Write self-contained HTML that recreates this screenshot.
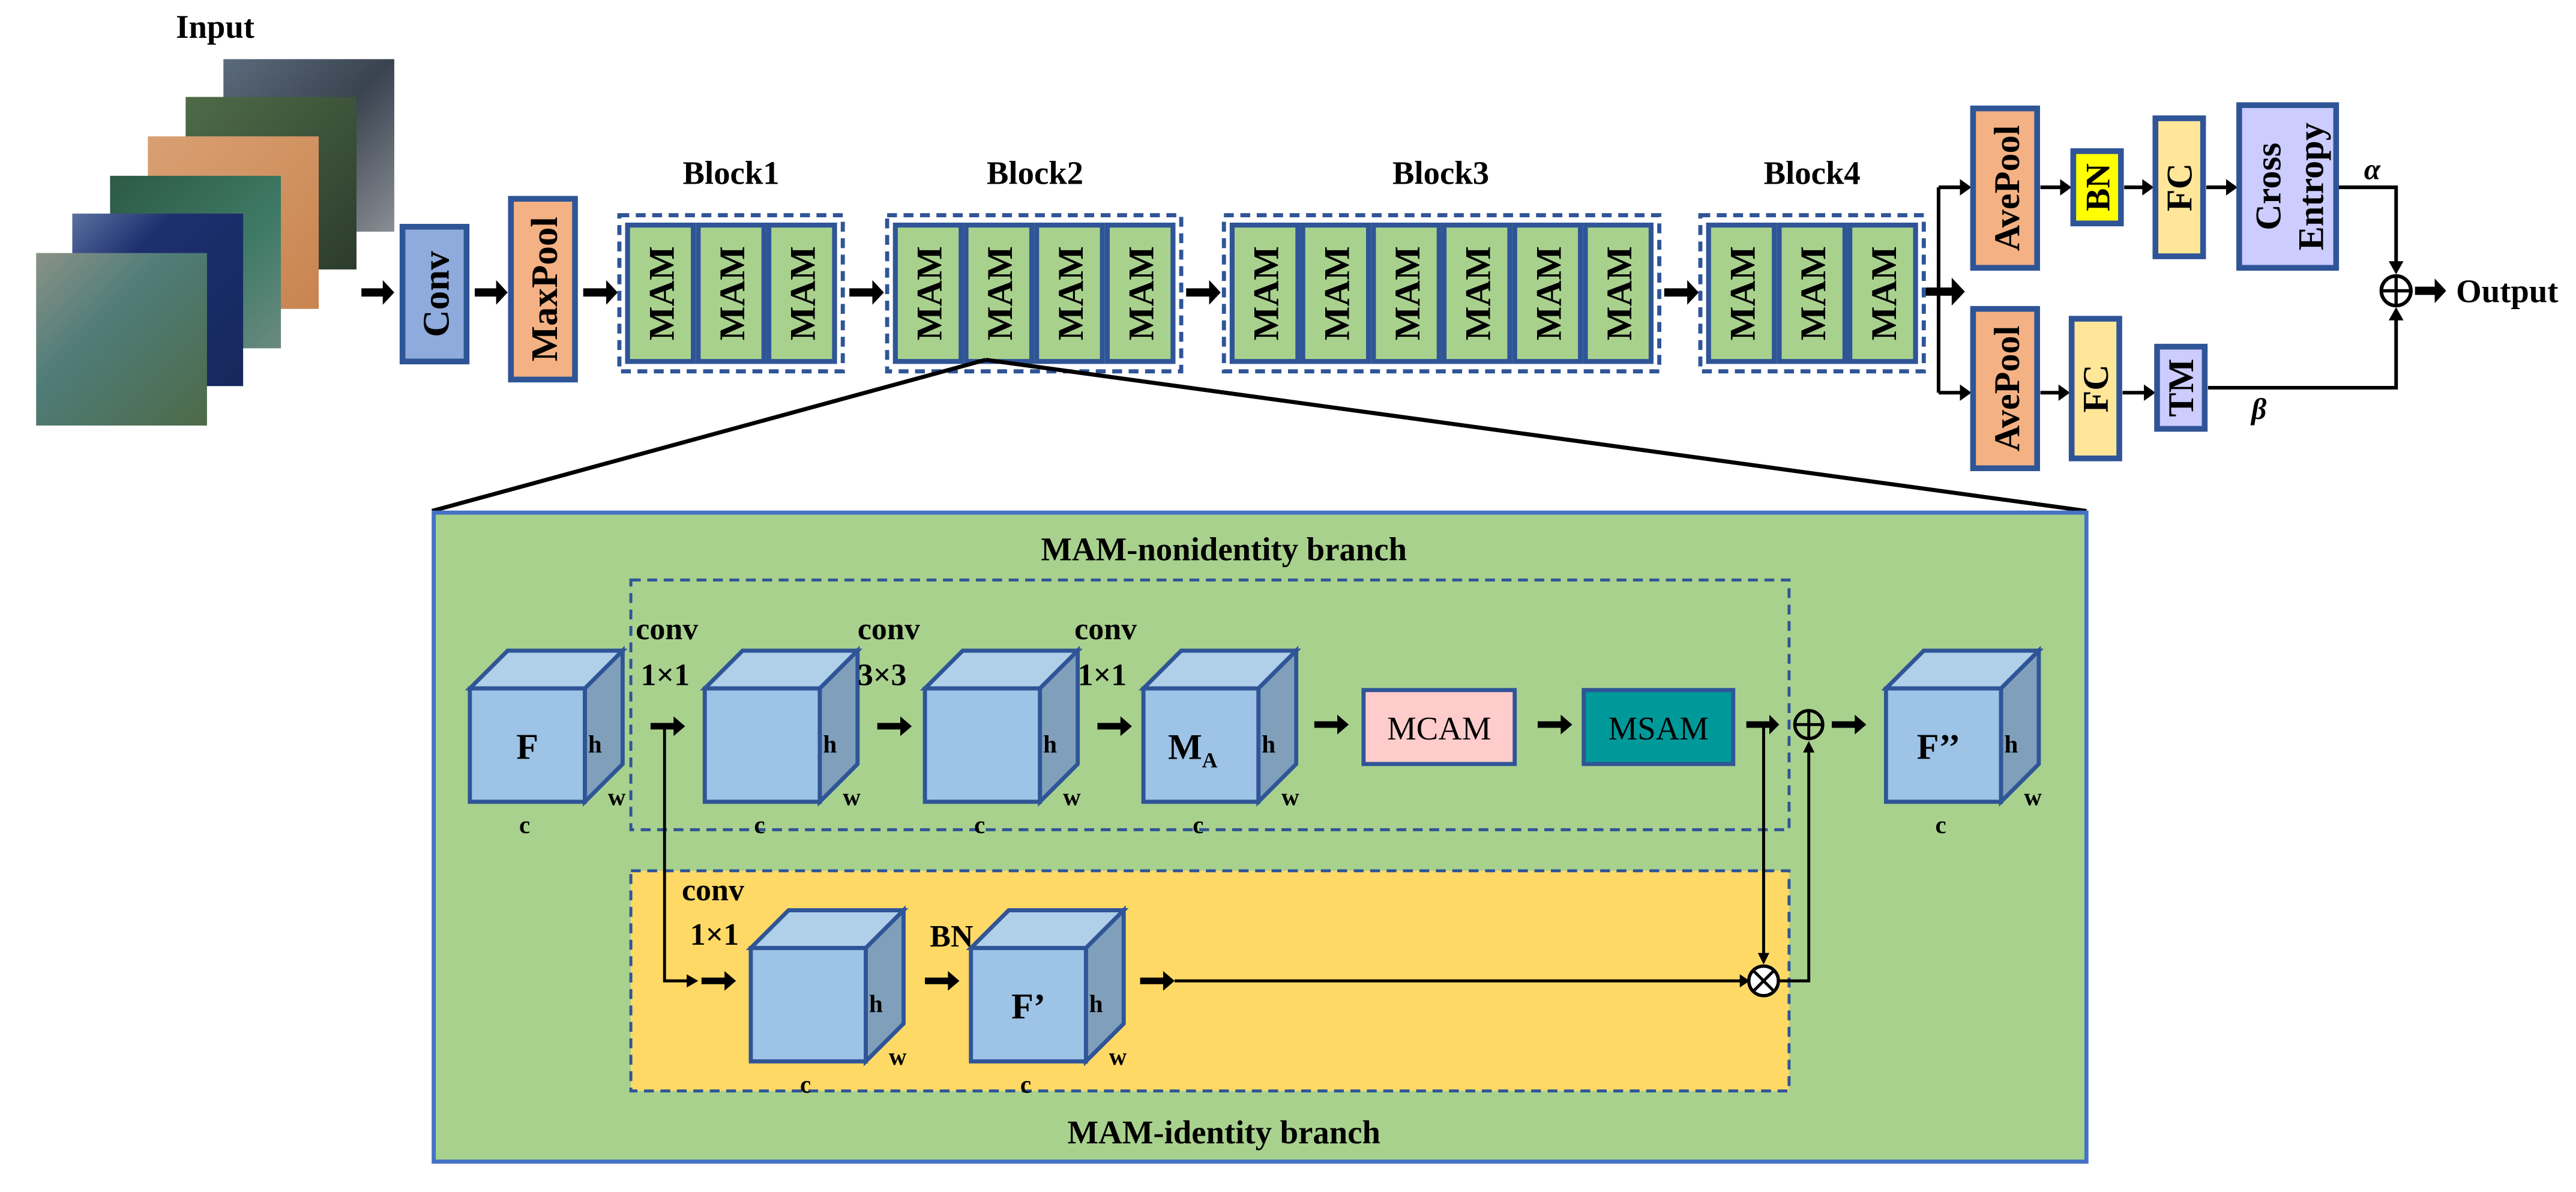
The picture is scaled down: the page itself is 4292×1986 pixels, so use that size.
<!DOCTYPE html>
<html><head><meta charset="utf-8"><style>html,body{margin:0;padding:0;background:#fff}svg{display:block}</style></head>
<body>
<svg width="4292" height="1986" viewBox="0 0 1568 725.5" preserveAspectRatio="none" xmlns="http://www.w3.org/2000/svg" font-family="'Liberation Serif', serif" font-weight="bold">
<defs>
<linearGradient id="g0" x1="0" y1="0" x2="1" y2="1"><stop offset="0" stop-color="#5b6b7c"/><stop offset="0.5" stop-color="#3a4350"/><stop offset="1" stop-color="#8a8e94"/></linearGradient>
<linearGradient id="g1" x1="0" y1="0" x2="1" y2="1"><stop offset="0" stop-color="#4e6b48"/><stop offset="1" stop-color="#2c3c2c"/></linearGradient>
<linearGradient id="g2" x1="0" y1="0" x2="1" y2="1"><stop offset="0" stop-color="#d9a072"/><stop offset="1" stop-color="#c98450"/></linearGradient>
<linearGradient id="g3" x1="0" y1="0" x2="1" y2="1"><stop offset="0" stop-color="#2c5a45"/><stop offset="0.6" stop-color="#3f7a66"/><stop offset="1" stop-color="#6a8a80"/></linearGradient>
<linearGradient id="g4" x1="0" y1="0" x2="1" y2="1"><stop offset="0" stop-color="#5a70a0"/><stop offset="0.3" stop-color="#1d2f6e"/><stop offset="1" stop-color="#16285c"/></linearGradient>
<linearGradient id="g5" x1="0" y1="0" x2="1" y2="1"><stop offset="0" stop-color="#8a9288"/><stop offset="0.4" stop-color="#4f7c78"/><stop offset="1" stop-color="#4d6a48"/></linearGradient>
</defs>

<!-- Input -->
<text x="131" y="23" font-size="20" text-anchor="middle">Input</text>
<rect x="136" y="36" width="104" height="105" fill="url(#g0)"/>
<rect x="113" y="59" width="104" height="105" fill="url(#g1)"/>
<rect x="90" y="83" width="104" height="105" fill="url(#g2)"/>
<rect x="67" y="107" width="104" height="105" fill="url(#g3)"/>
<rect x="44" y="130" width="104" height="105" fill="url(#g4)"/>
<rect x="22" y="154" width="104" height="105" fill="url(#g5)"/>

<g fill="#000">
<!-- top-row thick arrows -->
<path d="M220,175.5h13v-5l7,7.5l-7,7.5v-5h-13z"/>
<path d="M289,175.5h13v-5l7,7.5l-7,7.5v-5h-13z"/>
<path d="M355,175.5h14v-5l7,7.5l-7,7.5v-5h-14z"/>
<path d="M517,175.5h14v-5l7,7.5l-7,7.5v-5h-14z"/>
<path d="M722,175.5h14v-5l7,7.5l-7,7.5v-5h-14z"/>
<path d="M1013,175.5h14v-5l7,7.5l-7,7.5v-5h-14z"/>
<path d="M1172,175h16v-6l8,8.5l-8,8.5v-6h-16z"/>
</g>

<!-- Conv / MaxPool -->
<rect x="245" y="138" width="39" height="82" fill="#8faadc" stroke="#2f5597" stroke-width="3.5"/>
<text transform="translate(273,179) rotate(-90)" font-size="23" text-anchor="middle">Conv</text>
<rect x="311" y="121" width="39" height="110" fill="#f4b183" stroke="#2f5597" stroke-width="3.5"/>
<text transform="translate(339,176) rotate(-90)" font-size="23" text-anchor="middle">MaxPool</text>

<!-- Blocks -->
<g font-size="20" text-anchor="middle">
<text x="445" y="112">Block1</text><text x="630" y="112">Block2</text><text x="877" y="112">Block3</text><text x="1103" y="112">Block4</text>
</g>
<g fill="none" stroke="#2f5597" stroke-width="2.5" stroke-dasharray="6,4">
<rect x="377" y="131" width="136" height="95"/>
<rect x="540" y="131" width="179" height="95"/>
<rect x="745" y="131" width="265" height="95"/>
<rect x="1035" y="131" width="136" height="95"/>
</g>
<g id="mams" font-size="22" text-anchor="middle">
<g fill="#a9d18e" stroke="#2f5597" stroke-width="3">
<rect x="382" y="137" width="40" height="83"/><rect x="425" y="137" width="40" height="83"/><rect x="468" y="137" width="40" height="83"/>
<rect x="545" y="137" width="40" height="83"/><rect x="588" y="137" width="40" height="83"/><rect x="631" y="137" width="40" height="83"/><rect x="674" y="137" width="40" height="83"/>
<rect x="750" y="137" width="40" height="83"/><rect x="793" y="137" width="40" height="83"/><rect x="836" y="137" width="40" height="83"/><rect x="879" y="137" width="40" height="83"/><rect x="922" y="137" width="40" height="83"/><rect x="965" y="137" width="40" height="83"/>
<rect x="1040" y="137" width="40" height="83"/><rect x="1083" y="137" width="40" height="83"/><rect x="1126" y="137" width="40" height="83"/>
</g>
<g>
<text transform="translate(410,178.5) rotate(-90)">MAM</text><text transform="translate(453,178.5) rotate(-90)">MAM</text><text transform="translate(496,178.5) rotate(-90)">MAM</text>
<text transform="translate(573,178.5) rotate(-90)">MAM</text><text transform="translate(616,178.5) rotate(-90)">MAM</text><text transform="translate(659,178.5) rotate(-90)">MAM</text><text transform="translate(702,178.5) rotate(-90)">MAM</text>
<text transform="translate(778,178.5) rotate(-90)">MAM</text><text transform="translate(821,178.5) rotate(-90)">MAM</text><text transform="translate(864,178.5) rotate(-90)">MAM</text><text transform="translate(907,178.5) rotate(-90)">MAM</text><text transform="translate(950,178.5) rotate(-90)">MAM</text><text transform="translate(993,178.5) rotate(-90)">MAM</text>
<text transform="translate(1068,178.5) rotate(-90)">MAM</text><text transform="translate(1111,178.5) rotate(-90)">MAM</text><text transform="translate(1154,178.5) rotate(-90)">MAM</text>
</g>
</g>

<!-- right head -->
<g stroke="#000" stroke-width="2.2" fill="none">
<path d="M1180,114V239"/>
<path d="M1180,114H1194"/><path d="M1180,239H1194"/>
<path d="M1242,114H1255"/><path d="M1293,114H1305"/><path d="M1343,114H1356"/>
<path d="M1242,239H1254"/><path d="M1292,239H1306"/>
<path d="M1423,114H1458.5V160"/>
<path d="M1344,236H1458.5V194"/>
</g>
<g fill="#000">
<path d="M1193,109l7,5l-7,5z"/><path d="M1193,234l7,5l-7,5z"/>
<path d="M1254,109l7,5l-7,5z"/><path d="M1304,109l7,5l-7,5z"/><path d="M1355,109l7,5l-7,5z"/>
<path d="M1253,234l7,5l-7,5z"/><path d="M1305,234l7,5l-7,5z"/>
<path d="M1454,159l4.5,8l4.5,-8z"/><path d="M1454,195l4.5,-8l4.5,8z"/>
<path d="M1470,174.5h12v-5l7,7.5l-7,7.5v-5h-12z"/>
</g>
<g stroke="#2f5597" stroke-width="3.5">
<rect x="1201" y="66" width="39" height="97" fill="#f4b183"/>
<rect x="1262" y="92" width="29" height="44" fill="#ffff00"/>
<rect x="1312" y="72" width="29" height="84" fill="#ffe699"/>
<rect x="1363" y="64" width="59" height="99" fill="#ccccff"/>
<rect x="1201" y="188" width="39" height="97" fill="#f4b183"/>
<rect x="1261" y="194" width="29" height="85" fill="#ffe699"/>
<rect x="1313" y="211" width="29" height="50" fill="#ccccff"/>
</g>
<g font-size="22" text-anchor="middle">
<text transform="translate(1229,114.5) rotate(-90)">AvePool</text>
<text transform="translate(1284,114) rotate(-90)" font-size="21">BN</text>
<text transform="translate(1334,114) rotate(-90)">FC</text>
<text transform="translate(1388,113.5) rotate(-90)">Cross</text>
<text transform="translate(1414,113.5) rotate(-90)">Entropy</text>
<text transform="translate(1229,236.5) rotate(-90)">AvePool</text>
<text transform="translate(1283,236.5) rotate(-90)">FC</text>
<text transform="translate(1335,236) rotate(-90)">TM</text>
</g>
<text x="1444" y="109" font-size="18" font-style="italic" text-anchor="middle">α</text>
<text x="1375" y="255" font-size="18" font-style="italic" text-anchor="middle">β</text>
<circle cx="1458.5" cy="177" r="9" fill="#fff" stroke="#000" stroke-width="2.2"/>
<path d="M1449.5,177h18M1458.5,168v18" stroke="#000" stroke-width="2"/>
<text x="1495" y="184" font-size="20">Output</text>

<!-- zoom lines -->
<path d="M600,219L263,311M600,219L1270,311" stroke="#000" stroke-width="2.5" fill="none"/>

<!-- detail box -->
<rect x="264" y="312" width="1006" height="395" fill="#a9d18e" stroke="#4472c4" stroke-width="2.5"/>
<text x="745" y="341" font-size="20" text-anchor="middle">MAM-nonidentity branch</text>
<text x="745" y="696" font-size="20" text-anchor="middle">MAM-identity branch</text>
<rect x="384" y="353" width="705" height="152" fill="none" stroke="#2f5597" stroke-width="1.8" stroke-dasharray="6,4"/>
<rect x="384" y="530" width="705" height="134" fill="#ffd966" stroke="#2f5597" stroke-width="1.8" stroke-dasharray="6,4"/>

<!-- cubes -->
<g stroke="#2f5597" stroke-width="2.5" stroke-linejoin="miter">
<!-- F -->
<path d="M286,419l23,-23h70l-23,23z" fill="#b0cfe9"/><path d="M356,419l23,-23v69l-23,23z" fill="#7f9fba"/><rect x="286" y="419" width="70" height="69" fill="#9dc3e6"/>
<path d="M429,419l23,-23h70l-23,23z" fill="#b0cfe9"/><path d="M499,419l23,-23v69l-23,23z" fill="#7f9fba"/><rect x="429" y="419" width="70" height="69" fill="#9dc3e6"/>
<path d="M563,419l23,-23h70l-23,23z" fill="#b0cfe9"/><path d="M633,419l23,-23v69l-23,23z" fill="#7f9fba"/><rect x="563" y="419" width="70" height="69" fill="#9dc3e6"/>
<path d="M696,419l23,-23h70l-23,23z" fill="#b0cfe9"/><path d="M766,419l23,-23v69l-23,23z" fill="#7f9fba"/><rect x="696" y="419" width="70" height="69" fill="#9dc3e6"/>
<path d="M1148,419l23,-23h70l-23,23z" fill="#b0cfe9"/><path d="M1218,419l23,-23v69l-23,23z" fill="#7f9fba"/><rect x="1148" y="419" width="70" height="69" fill="#9dc3e6"/>
<path d="M457,577l23,-23h70l-23,23z" fill="#b0cfe9"/><path d="M527,577l23,-23v69l-23,23z" fill="#7f9fba"/><rect x="457" y="577" width="70" height="69" fill="#9dc3e6"/>
<path d="M591,577l23,-23h70l-23,23z" fill="#b0cfe9"/><path d="M661,577l23,-23v69l-23,23z" fill="#7f9fba"/><rect x="591" y="577" width="70" height="69" fill="#9dc3e6"/>
</g>
<g font-size="15">
<text x="358" y="458">h</text><text x="370" y="490">w</text><text x="316" y="507">c</text>
<text x="501" y="458">h</text><text x="513" y="490">w</text><text x="459" y="507">c</text>
<text x="635" y="458">h</text><text x="647" y="490">w</text><text x="593" y="507">c</text>
<text x="768" y="458">h</text><text x="780" y="490">w</text><text x="726" y="507">c</text>
<text x="1220" y="458">h</text><text x="1232" y="490">w</text><text x="1178" y="507">c</text>
<text x="529" y="616">h</text><text x="541" y="648">w</text><text x="487" y="665">c</text>
<text x="663" y="616">h</text><text x="675" y="648">w</text><text x="621" y="665">c</text>
</g>
<g font-size="22" text-anchor="middle">
<text x="321" y="462">F</text>
<text x="726" y="462">M<tspan font-size="13" dy="5">A</tspan></text>
<text x="1180" y="462">F’’</text>
<text x="626" y="620">F’</text>
</g>
<g font-size="19">
<text x="387" y="389">conv</text><text x="390" y="417">1×1</text>
<text x="522" y="389">conv</text><text x="522" y="417">3×3</text>
<text x="654" y="389">conv</text><text x="656" y="417">1×1</text>
<text x="415" y="548">conv</text><text x="420" y="575">1×1</text>
<text x="566" y="576">BN</text>
</g>
<rect x="830" y="420" width="92" height="45" fill="#ffcccc" stroke="#2f5597" stroke-width="2.5"/>
<rect x="964" y="420" width="91" height="45" fill="#009999" stroke="#2f5597" stroke-width="2.5"/>
<text x="876" y="450" font-size="20" font-weight="normal" text-anchor="middle">MCAM</text>
<text x="1009.5" y="450" font-size="20" font-weight="normal" text-anchor="middle">MSAM</text>

<!-- detail connectors -->
<g stroke="#000" stroke-width="1.8" fill="none">
<path d="M404.5,442V597H420"/>
<path d="M715,597H1064"/>
<path d="M1073.5,441V584"/>
<path d="M1083.5,597H1101V453"/>
</g>
<g fill="#000">
<path d="M396,440h14v-4l7,6l-7,6v-4h-14z"/>
<path d="M534,440h14v-4l7,6l-7,6v-4h-14z"/>
<path d="M668,440h14v-4l7,6l-7,6v-4h-14z"/>
<path d="M800,439h14v-4l7,6l-7,6v-4h-14z"/>
<path d="M936,439h14v-4l7,6l-7,6v-4h-14z"/>
<path d="M1063,439h14v-4l6,6l-6,6v-4h-14z"/>
<path d="M1115,439h14v-4l7,6l-7,6v-4h-14z"/>
<path d="M418,593l7,4l-7,4z"/>
<path d="M427,595h14v-4l7,6l-7,6v-4h-14z"/>
<path d="M563,595h14v-4l7,6l-7,6v-4h-14z"/>
<path d="M694,595h14v-4l7,6l-7,6v-4h-14z"/>
<path d="M1059,593l6,4l-6,4z"/>
<path d="M1070,580l3.5,7l3.5,-7z"/>
<path d="M1097.5,458l3.5,-7l3.5,7z"/>
</g>
<circle cx="1101" cy="441" r="8.5" fill="none" stroke="#000" stroke-width="2"/>
<path d="M1092.5,441h17M1101,432.5v17" stroke="#000" stroke-width="1.8"/>
<circle cx="1073.5" cy="597" r="9" fill="#fff" stroke="#000" stroke-width="2"/>
<path d="M1067.1,590.6l12.8,12.8M1079.9,590.6l-12.8,12.8" stroke="#000" stroke-width="1.8"/>
</svg>
</body></html>
